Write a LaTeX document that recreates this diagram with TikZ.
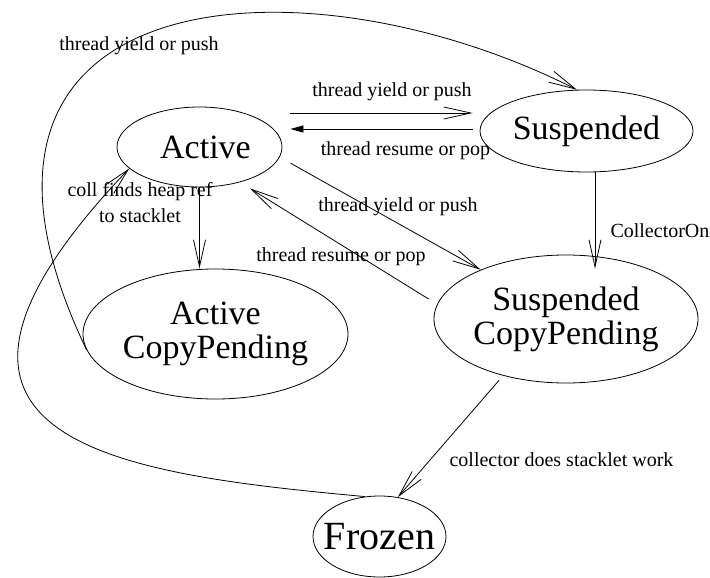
\documentclass[tikz,border=0pt]{standalone}
\usepackage{fontspec}
\setmainfont{Liberation Serif}
\usetikzlibrary{shapes.geometric,arrows.meta}
\newcommand{\statefont}{\fontsize{34}{34}\selectfont}
\newcommand{\edgefont}{\fontsize{20}{26}\selectfont}
\newcommand{\nb}[1]{\makebox[0pt]{#1}}

\begin{document}
\begin{tikzpicture}[x=1pt, y=-1pt,
	state/.style={draw, ellipse, inner sep=0pt, align=center, font=\statefont, line width=0.8pt},
	lab/.style={font=\edgefont, align=center, anchor=base},
	arr/.style={-{Straight Barb[length=27pt,width=12pt]}, line width=0.8pt}]
	\useasboundingbox (0,0) rectangle (710,578);
	% states
	\node[state, minimum width=165pt, minimum height=80pt] (act) at (199.5,147) {\nb{\hspace{12pt}\raisebox{-4pt}{Active}}};
	\node[state, minimum width=213pt, minimum height=82pt] (susp) at (586.5,131) {\nb{Suspended}};
	\node[state, minimum width=265pt, minimum height=130pt] (acp) at (215.5,334) {\nb{Active}\\\nb{CopyPending}};
	\node[state, minimum width=264pt, minimum height=128pt] (sc) at (566,319) {\nb{Suspended}\\\nb{CopyPending}};
	\node[state, minimum width=133pt, minimum height=81pt, font=\fontsize{40}{44}\selectfont] (froz) at (379.5,536.5) {\nb{Frozen}};
	% labels
	\node[lab] (l1) at (139,51) {thread yield or push};
	\node[lab] (l2) at (392,96) {thread yield or push};
	\node[lab] (l3) at (405.5,155) {thread resume or pop};
	\node[lab] (l4) at (398,211) {thread yield or push};
	\node[lab] (l5) at (341,261) {thread resume or pop};
	\node[lab] (l6) at (140,222) {coll finds heap ref\\to stacklet};
	\node[lab, anchor=base west] (l7) at (607,237) {CollectorOn};
	\node[lab] (l8) at (561.5,466) {collector does stacklet work};
	% transitions
	\draw[arr] (acp.187) .. controls +(-177,-370) and +(-277,-140) .. (susp.103);
	\draw[arr] ([shift={(8,-34)}]act.east) -- ([shift={(-7,-18)}]susp.west);
	\draw[-{Triangle[length=13pt,width=7pt]}, line width=0.8pt] ([shift={(-7,-2)}]susp.west) -- ([shift={(8,-18)}]act.east);
	\draw[arr] (act.south) -- (act.south |- acp.north);
	\draw[arr] ([shift={(8.5,0)}]susp.south) -- ([shift={(29,14)}]sc.north);
	\draw[arr] ([shift={(15,0)}]act.-12) -- (sc.150);
	\draw[arr] ([shift={(-5,-20)}]sc.west) -- ([shift={(50.5,1)}]act.south);
	\draw[arr, shorten <=6pt] (sc.222) -- (froz.65);
	\draw[arr] (froz.110) .. controls +(-250,-23) and +(-260,273) .. (act.197);
\end{tikzpicture}
\end{document}
